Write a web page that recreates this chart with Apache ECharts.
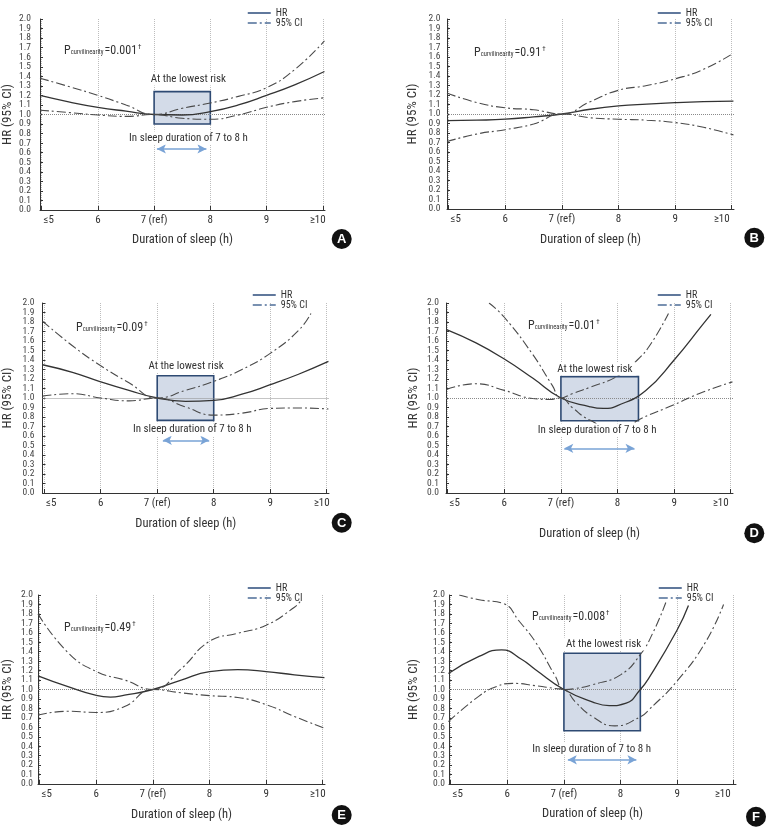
<!DOCTYPE html>
<html><head><meta charset="utf-8">
<script src="https://cdn.jsdelivr.net/npm/echarts@6/dist/echarts.min.js"></script>
<style>html,body{margin:0;padding:0;background:#fff}#c{width:769px;height:829px}</style>
</head><body><div id="c"></div>
<script>
// ---------- data ----------
const xTickValues = [5, 6, 7, 8, 9, 10];
const xTickLabels = ['≤5', '6', '7 (ref)', '8', '9', '≥10'];
const yTickEven = [0, 0.2, 0.4, 0.6, 0.8, 1.0, 1.2, 1.4, 1.6, 1.8, 2.0];
const yTickOdd = [0.1, 0.3, 0.5, 0.7, 0.9, 1.1, 1.3, 1.5, 1.7, 1.9];
const panelLetters = ['A', 'B', 'C', 'D', 'E', 'F'];
const pValues = ['0.001', '0.91', '0.09', '0.01', '0.49', '0.008'];
const boxTitle = 'At the lowest risk';
const rangeText = 'In sleep duration of 7 to 8 h';

// Panel A
const xA = [4.97, 5.5, 6, 6.5, 7, 7.5, 8, 8.5, 9, 9.5, 10.03];
const hrA = [1.20, 1.13, 1.075, 1.035, 1.0, 0.995, 1.03, 1.10, 1.20, 1.31, 1.45];
const upA = [1.38, 1.29, 1.20, 1.10, 1.0, 1.065, 1.12, 1.19, 1.28, 1.47, 1.77];
const loA = [1.045, 1.02, 0.995, 0.98, 1.0, 0.96, 0.95, 0.995, 1.075, 1.135, 1.175];
const boxA = [7, 8, 0.90, 1.24];
const arrowA = [7.05, 7.93, 0.64];

// Panel B
const xB = [4.97, 5.5, 6, 6.5, 7, 7.5, 8, 8.5, 9, 9.5, 10.03];
const hrB = [0.93, 0.935, 0.945, 0.97, 1.0, 1.05, 1.085, 1.105, 1.12, 1.13, 1.135];
const upB = [1.22, 1.12, 1.065, 1.045, 1.0, 1.13, 1.25, 1.30, 1.37, 1.47, 1.64];
const loB = [0.71, 0.79, 0.835, 0.895, 1.0, 0.96, 0.945, 0.935, 0.91, 0.86, 0.78];

// Panel C
const xC = [4.97, 5.5, 6, 6.5, 7, 7.5, 8, 8.5, 9, 9.5, 10.03];
const hrC = [1.35, 1.27, 1.17, 1.08, 1.0, 0.965, 0.975, 1.04, 1.14, 1.25, 1.385];
const xCu = [4.97, 5.5, 6, 6.5, 7, 7.5, 8, 8.5, 9, 9.5, 9.72];
const upC = [1.81, 1.55, 1.34, 1.16, 1.0, 1.08, 1.175, 1.30, 1.47, 1.71, 1.89];
const loC = [1.02, 1.045, 1.0, 0.97, 1.0, 0.905, 0.82, 0.84, 0.89, 0.895, 0.885];
const boxC = [7, 8, 0.765, 1.235];
const arrowC = [7.1, 7.92, 0.555];

// Panel D
const xDh = [4.98, 5.5, 6, 6.5, 7, 7.5, 7.75, 8, 8.5, 9, 9.5, 9.65];
const hrD = [1.72, 1.58, 1.41, 1.21, 1.0, 0.91, 0.89, 0.92, 1.08, 1.40, 1.77, 1.88];
const xDu = [5.73, 6, 6.5, 6.85, 7, 7.2, 7.5, 8, 8.35, 8.6, 8.9];
const upD = [2.0, 1.85, 1.46, 1.13, 1.0, 1.045, 1.11, 1.23, 1.40, 1.58, 1.89];
const xDl = [4.98, 5.5, 6, 6.5, 6.8, 7, 7.2, 7.5, 8, 8.42, 9, 9.5, 10.03];
const loD = [1.09, 1.15, 1.08, 0.995, 0.985, 1.0, 0.9, 0.77, 0.66, 0.785, 0.93, 1.06, 1.17];
const boxD = [7, 8.37, 0.76, 1.225];
const arrowD = [7.06, 8.3, 0.47];

// Panel E
const xEh = [4.97, 5.5, 6, 6.25, 6.5, 7, 7.5, 8, 8.5, 9, 9.5, 10.03];
const hrE = [1.145, 1.03, 0.937, 0.92, 0.94, 1.0, 1.10, 1.19, 1.21, 1.19, 1.155, 1.125];
const xEu = [4.97, 5.5, 6, 6.5, 7, 7.5, 8, 8.5, 9, 9.5, 9.6];
const upE = [1.80, 1.39, 1.19, 1.10, 1.0, 1.22, 1.51, 1.595, 1.68, 1.87, 1.93];
const xEl = [4.97, 5.5, 6, 6.5, 7, 7.5, 8, 8.5, 9, 9.5, 10.03];
const loE = [0.73, 0.77, 0.757, 0.82, 1.0, 0.965, 0.935, 0.915, 0.84, 0.715, 0.59];

// Panel F
const xFh = [4.96, 5.5, 5.9, 6.25, 6.5, 7, 7.5, 7.8, 8.1, 8.35, 8.5, 9, 9.2];
const hrF = [1.17, 1.35, 1.42, 1.32, 1.21, 1.0, 0.87, 0.83, 0.855, 1.0, 1.12, 1.63, 1.89];
const xFu = [5.15, 5.5, 5.95, 6.2, 6.5, 6.85, 7, 7.2, 7.5, 8, 8.35, 8.58, 8.8];
const upF = [2.0, 1.95, 1.905, 1.73, 1.5, 1.14, 1.0, 1.01, 1.05, 1.155, 1.37, 1.61, 1.92];
const xFl = [4.96, 5.5, 5.8, 6.1, 6.5, 6.85, 7, 7.2, 7.5, 7.9, 8.35, 8.5, 9, 9.5, 9.82];
const loF = [0.66, 0.93, 1.03, 1.065, 1.04, 1.01, 1.0, 0.87, 0.715, 0.615, 0.71, 0.785, 1.09, 1.5, 1.9];
const boxF = [7, 8.35, 0.563, 1.384];
const arrowF = [7.07, 8.28, 0.257];

const panels = [
  { xHr: xA, hr: hrA, xUp: xA, up: upA, xLo: xA, lo: loA, box: boxA, arrow: arrowA },
  { xHr: xB, hr: hrB, xUp: xB, up: upB, xLo: xB, lo: loB, box: null, arrow: null },
  { xHr: xC, hr: hrC, xUp: xCu, up: upC, xLo: xC, lo: loC, box: boxC, arrow: arrowC },
  { xHr: xDh, hr: hrD, xUp: xDu, up: upD, xLo: xDl, lo: loD, box: boxD, arrow: arrowD },
  { xHr: xEh, hr: hrE, xUp: xEu, up: upE, xLo: xEl, lo: loE, box: null, arrow: null },
  { xHr: xFh, hr: hrF, xUp: xFu, up: upF, xLo: xFl, lo: loF, box: boxF, arrow: arrowF }
];

// ---------- layout / style ----------
const FONT = "'Roboto Condensed','Liberation Sans',sans-serif";
const layout = [
  { grid: { left: 39, top: 19, width: 286, height: 191 }, xGap: 23, yGap: 26, yMargin: 9, legend: { left: 247, top: 8 }, p: { left: 64, top: 43 }, letter: [341.7, 239], geShift: 10, annTop: [7.61, 1.372], annBot: [7.61, 0.754] },
  { grid: { left: 447, top: 19, width: 287, height: 190 }, xGap: 24, yGap: 27.5, yMargin: 6.5, legend: { left: 657, top: 8 }, p: { left: 474, top: 45 }, letter: [754.3, 237.7], geShift: 20 },
  { grid: { left: 42, top: 303, width: 287, height: 190 }, xGap: 24, yGap: 28.5, yMargin: 8, legend: { left: 252, top: 290 }, p: { left: 76, top: 320 }, letter: [341.7, 522.7], geShift: 10, annTop: [7.51, 1.333], annBot: [7.62, 0.666] },
  { grid: { left: 446, top: 303, width: 287, height: 190 }, xGap: 34.5, yGap: 26, yMargin: 7, legend: { left: 657, top: 290 }, p: { left: 528, top: 318 }, letter: [754.3, 533.3], geShift: 20, annTop: [7.60, 1.306], annBot: [7.64, 0.662] },
  { grid: { left: 37, top: 595, width: 288, height: 189 }, xGap: 24, yGap: 24, yMargin: 5, legend: { left: 247, top: 583 }, p: { left: 64, top: 620 }, letter: [341.7, 815], geShift: 10 },
  { grid: { left: 449, top: 595, width: 287, height: 189 }, xGap: 23, yGap: 29, yMargin: 4, legend: { left: 658, top: 583 }, p: { left: 532, top: 609 }, letter: [756, 816.7], geShift: 22, annTop: [7.70, 1.482], annBot: [7.49, 0.373] }
];

const TXT = '#333';
const HR_COLOR = '#333';
const CI_COLOR = '#4a4a4a';
const CI_DASH = [9, 3, 2, 3];

const pair = (xs, ys) => xs.map((x, k) => [x, ys[k]]);

const grids = [], xAxes = [], yAxes = [], yOddAxes = [], series = [], legends = [], titles = [], graphics = [];

panels.forEach((P, i) => {
  const L = layout[i];
  grids.push(Object.assign({ containLabel: false }, L.grid));
  xAxes.push({
    gridIndex: i, type: 'value', min: 4.97, max: 10.04,
    axisLine: { show: true, onZero: false, lineStyle: { color: '#333', width: 1 } },
    axisTick: { show: true, inside: true, length: 4, customValues: xTickValues, lineStyle: { color: '#333' } },
    axisLabel: {
      customValues: xTickValues, margin: 5, fontSize: 11, color: TXT, fontFamily: FONT, hideOverlap: false,
      formatter: v => {
        const k = xTickValues.indexOf(Math.round(v));
        if (k < 0) return '';
        if (k === 0) return '{l|' + xTickLabels[k] + '}';
        if (k === xTickLabels.length - 1) return '{r|' + xTickLabels[k] + '}';
        return xTickLabels[k];
      },
      rich: {
        l: { padding: [0, 0, 0, 14], fontSize: 11, color: TXT, fontFamily: FONT },
        r: { padding: [0, L.geShift, 0, 0], fontSize: 11, color: TXT, fontFamily: FONT }
      }
    },
    splitLine: { show: true, lineStyle: { type: 'dotted', color: '#bdbdbd', width: 1 } },
    name: 'Duration of sleep (h)', nameLocation: 'middle', nameGap: L.xGap,
    nameTextStyle: { fontSize: 12.5, color: TXT, fontFamily: FONT }
  });
  const yLabelStyle = { formatter: v => v.toFixed(1), fontSize: 9.5, color: '#444', margin: L.yMargin, fontFamily: FONT, hideOverlap: false, showMinLabel: true, showMaxLabel: true };
  yAxes.push({
    gridIndex: i, type: 'value', min: 0, max: 2, interval: 0.1, position: 'left',
    axisLine: { show: true, lineStyle: { color: '#333', width: 1 } },
    axisTick: { show: true, inside: true, length: 3, lineStyle: { color: '#333' } },
    axisLabel: Object.assign({ customValues: yTickEven }, yLabelStyle),
    splitLine: { show: false },
    name: 'HR (95% CI)', nameLocation: 'middle', nameGap: L.yGap,
    nameTextStyle: { fontSize: 13, color: TXT, fontFamily: FONT }
  });
  // companion label-only axis carrying the odd tenths
  yOddAxes.push({
    gridIndex: i, type: 'value', min: 0, max: 2, position: 'left', offset: 0,
    axisLine: { show: false }, axisTick: { show: false }, splitLine: { show: false },
    axisLabel: Object.assign({ customValues: yTickOdd }, yLabelStyle)
  });

  const hrSeries = {
    name: 'HR', type: 'line', xAxisIndex: i, yAxisIndex: i, data: pair(P.xHr, P.hr),
    smooth: true, symbol: 'none', silent: true, z: 3,
    lineStyle: { color: HR_COLOR, width: 1.3 }, itemStyle: { color: HR_COLOR }
  };
  const upSeries = {
    name: '95% CI', type: 'line', xAxisIndex: i, yAxisIndex: i, data: pair(P.xUp, P.up),
    smooth: true, symbol: 'none', silent: true,
    lineStyle: { color: CI_COLOR, width: 1.1, type: CI_DASH }, itemStyle: { color: CI_COLOR }
  };
  const loSeries = {
    name: '95% CI', type: 'line', xAxisIndex: i, yAxisIndex: i, data: pair(P.xLo, P.lo),
    smooth: true, symbol: 'none', silent: true,
    lineStyle: { color: CI_COLOR, width: 1.1, type: CI_DASH }, itemStyle: { color: CI_COLOR },
    markLine: {
      silent: true, symbol: 'none', z: 1, animation: false,
      label: { show: false },
      lineStyle: { type: 'dotted', color: '#8a8a8a', width: 1 },
      data: [{ yAxis: 1 }]
    }
  };
  if (P.box) {
    hrSeries.markArea = {
      silent: true, z: 1,
      itemStyle: { color: '#d3dbe8', borderColor: '#2e4a73', borderWidth: 1.6 },
      label: { show: false },
      data: [[{ coord: [P.box[0], P.box[2]] }, { coord: [P.box[1], P.box[3]] }]]
    };
    hrSeries.markLine = {
      silent: true, symbol: ['arrow', 'arrow'], symbolSize: [7, 9], animation: false,
      label: { show: false },
      lineStyle: { type: 'solid', color: '#79a3d6', width: 1.5 },
      data: [[{ coord: [P.arrow[0], P.arrow[2]] }, { coord: [P.arrow[1], P.arrow[2]] }]]
    };
    upSeries.markPoint = {
      silent: true, symbol: 'rect', symbolSize: 1, itemStyle: { color: 'rgba(0,0,0,0)' }, animation: false,
      label: { show: true, position: 'inside', color: TXT, fontSize: 11, fontFamily: FONT, backgroundColor: '#fff', padding: [1, 4] },
      data: [
        { coord: L.annTop, label: { formatter: boxTitle } },
        { coord: L.annBot, label: { formatter: rangeText } }
      ]
    };
  }
  series.push(hrSeries, upSeries, loSeries);

  legends.push({
    left: L.legend.left, top: L.legend.top, orient: 'vertical', padding: 0,
    itemWidth: 23, itemHeight: 10, itemGap: 0, selectedMode: false,
    itemStyle: { opacity: 0 },
    textStyle: { fontSize: 10, lineHeight: 10, color: TXT, fontFamily: FONT },
    data: [
      { name: 'HR', lineStyle: { color: '#2b4b7b', width: 1.5 } },
      { name: '95% CI', lineStyle: { color: '#4e6d98', width: 1.5 } }
    ]
  });

  titles.push({
    left: L.p.left, top: L.p.top, padding: 0,
    text: '{p|P}{s|curvilinearity}{e|=' + pValues[i] + '}{d|†}',
    textStyle: {
      fontWeight: 'normal',
      rich: {
        p: { fontSize: 12, fontWeight: 'normal', color: TXT, fontFamily: FONT, lineHeight: 15 },
        s: { fontSize: 6.5, fontWeight: 'normal', color: TXT, fontFamily: FONT, verticalAlign: 'bottom', padding: [0, 1, 2, 0] },
        e: { fontSize: 12, fontWeight: 'normal', color: TXT, fontFamily: FONT, lineHeight: 15 },
        d: { fontSize: 7, fontWeight: 'normal', color: TXT, fontFamily: FONT, verticalAlign: 'top', padding: [1, 0, 0, 1] }
      }
    }
  });

  graphics.push({
    type: 'group', left: L.letter[0] - 10, top: L.letter[1] - 10, silent: true,
    children: [
      { type: 'circle', shape: { cx: 10, cy: 10, r: 10 }, style: { fill: '#111' } },
      { type: 'text', x: 10, y: 10.5, style: { text: panelLetters[i], fill: '#fff', font: 'bold 13px "Liberation Sans", Arial, sans-serif', align: 'center', verticalAlign: 'middle' } }
    ]
  });
});

const chart = echarts.init(document.getElementById('c'), null, { renderer: 'canvas' });
chart.setOption({
  animation: false,
  backgroundColor: '#fff',
  title: titles,
  legend: legends,
  grid: grids,
  xAxis: xAxes,
  yAxis: yAxes.concat(yOddAxes),
  series: series,
  graphic: graphics
});
</script>
</body></html>
